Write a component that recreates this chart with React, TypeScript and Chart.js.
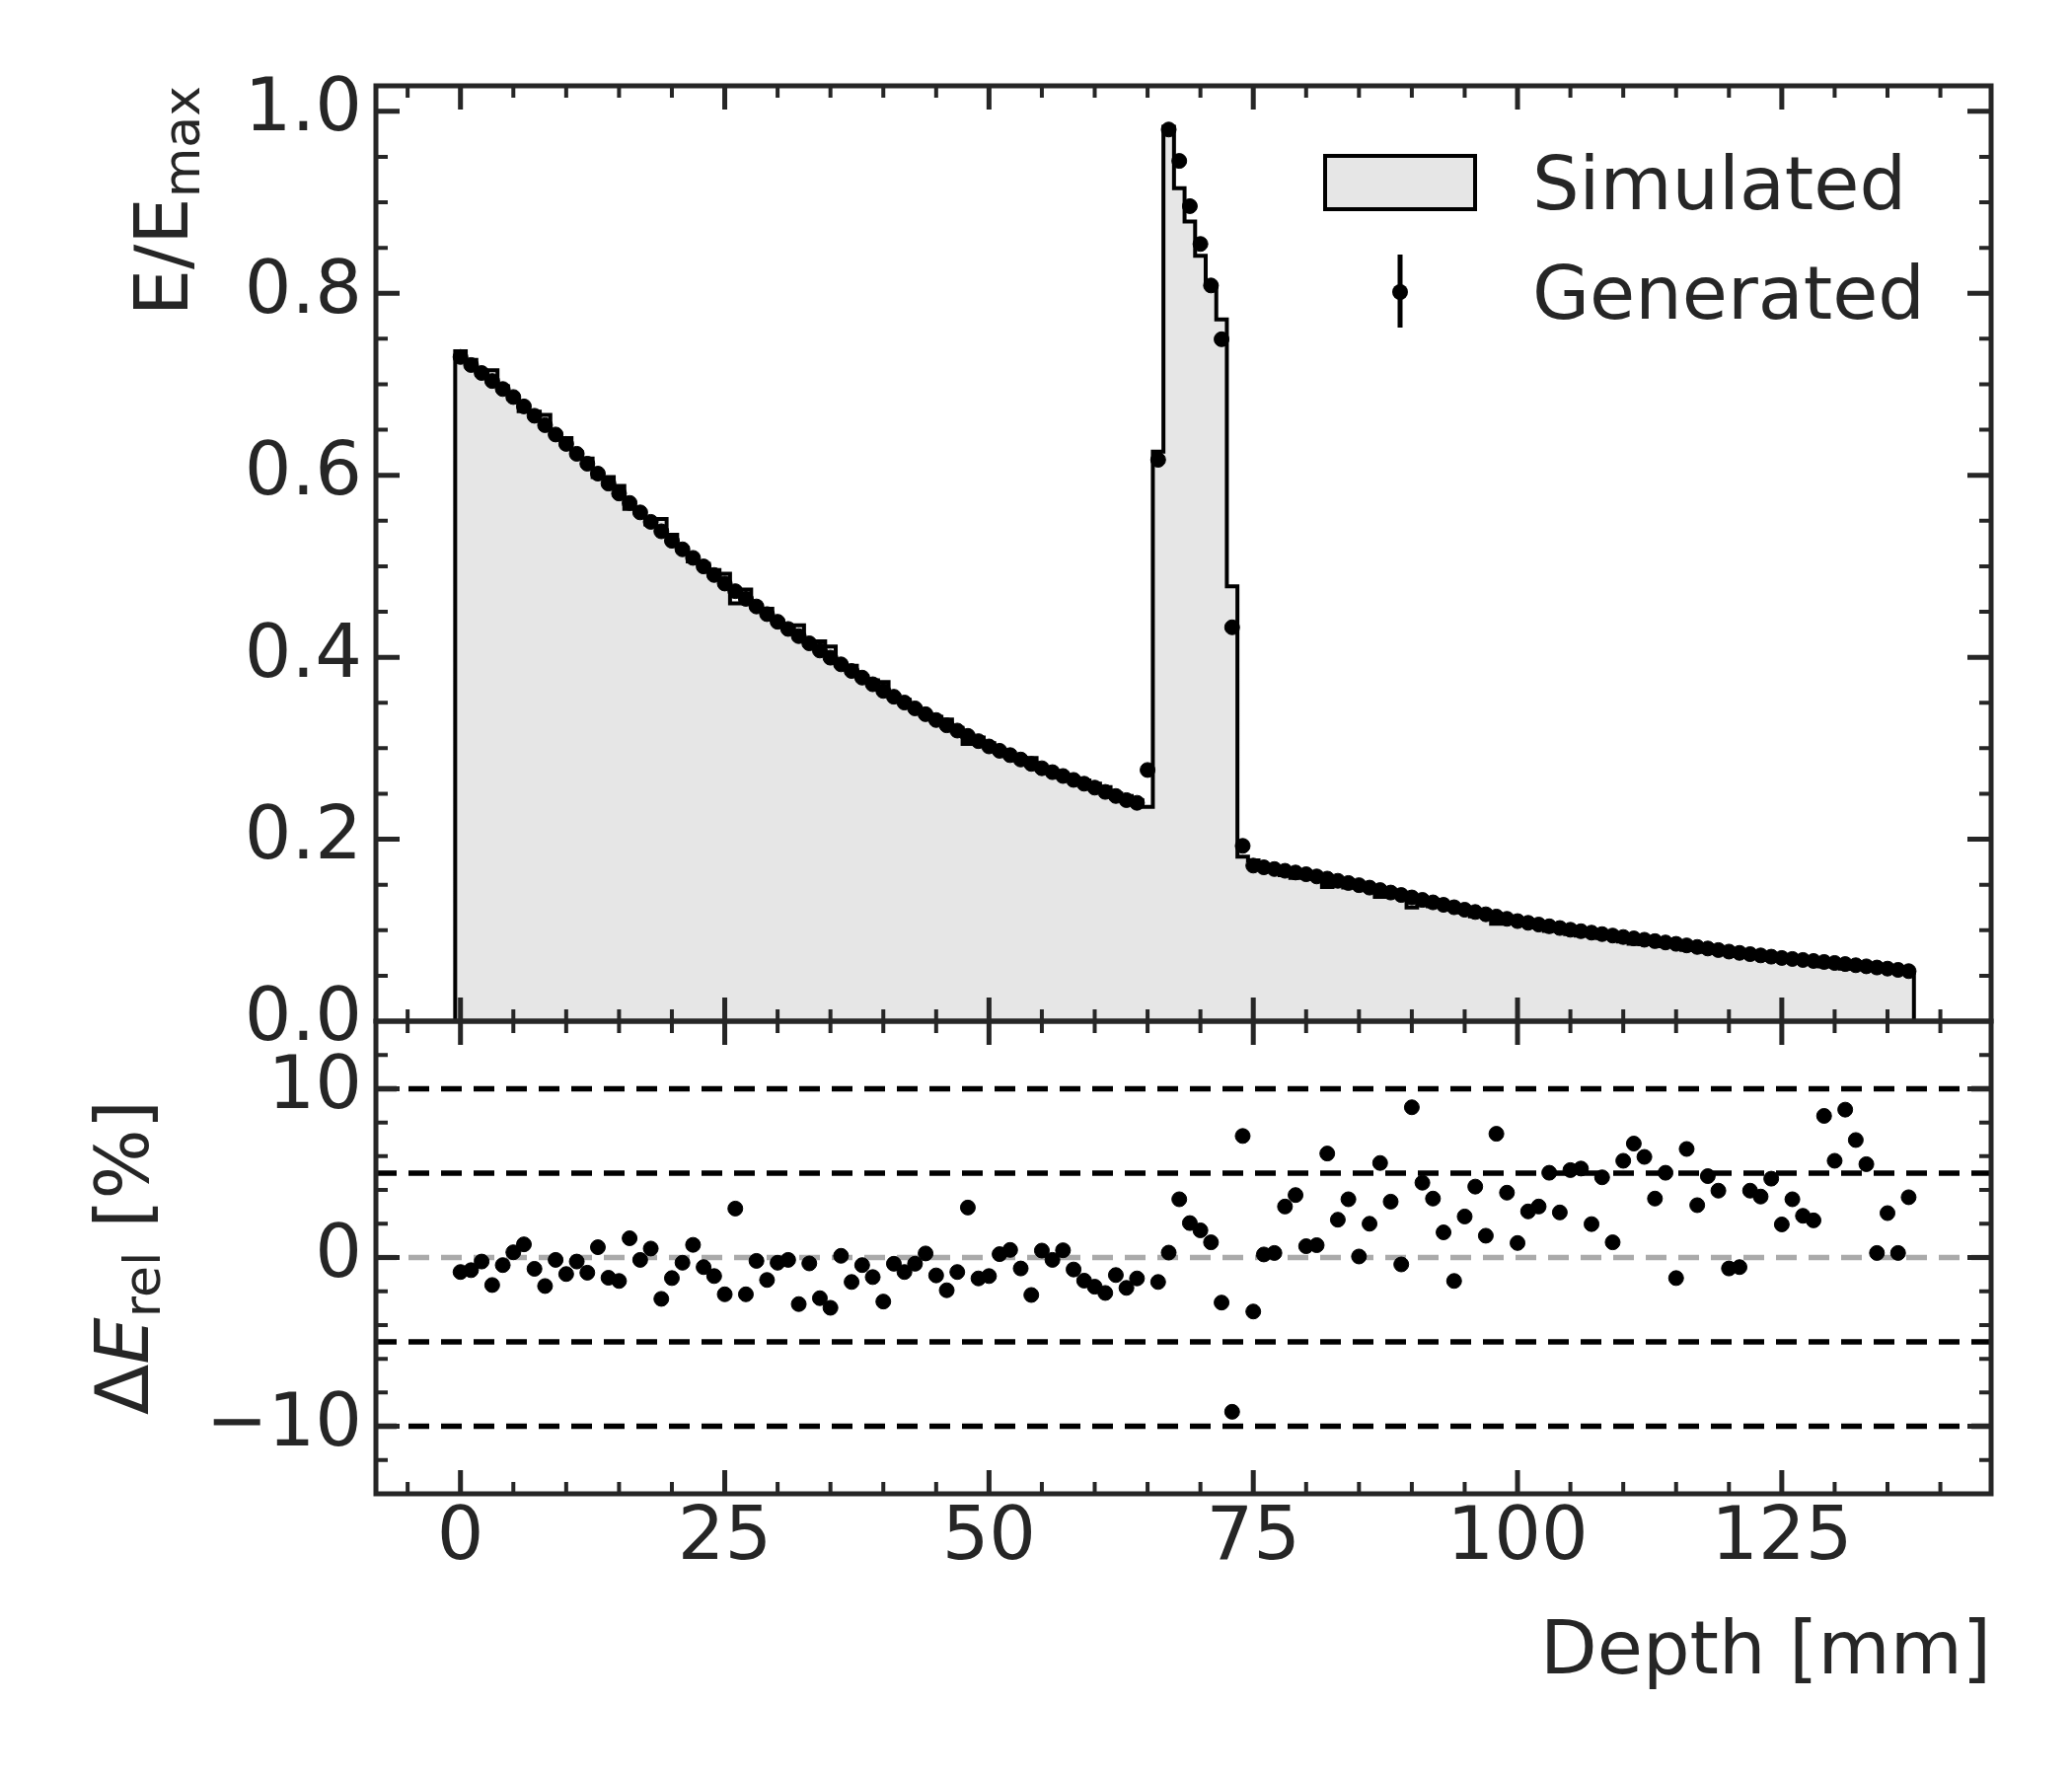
import { useEffect, useRef } from 'react';
import { Chart, registerables } from 'chart.js';

Chart.register(...registerables);

// depth bins are 1 mm wide and centred on whole millimetres
const firstBinMm = 0;
const binWidthMm = 1;

// simulated histogram, E/Emax per bin
const simulated = [
  0.7363, 0.7267, 0.7141, 0.7153, 0.6979, 0.6839, 0.6705, 0.6699, 0.6664, 0.6457,
  0.6408, 0.6251, 0.6183, 0.5981, 0.5981, 0.5882, 0.5632, 0.5600, 0.5459, 0.5519,
  0.5345, 0.5202, 0.5054, 0.5027, 0.4959, 0.4917, 0.4593, 0.4745, 0.4567, 0.4534,
  0.4404, 0.4317, 0.4352, 0.4168, 0.4175, 0.4118, 0.3918, 0.3906, 0.3793, 0.3746,
  0.3727, 0.3579, 0.3532, 0.3451, 0.3366, 0.3345, 0.3316, 0.3222, 0.3046, 0.3117,
  0.3054, 0.2966, 0.2911, 0.2895, 0.2892, 0.2769, 0.2741, 0.2683, 0.2671, 0.2646,
  0.2612, 0.2574, 0.2501, 0.2475, 0.2430, 0.2357, 0.6260, 0.9830, 0.9155, 0.8790,
  0.8413, 0.8086, 0.7713, 0.4780, 0.1808, 0.1767, 0.1688, 0.1667, 0.1605, 0.1576,
  0.1604, 0.1579, 0.1476, 0.1509, 0.1468, 0.1494, 0.1439, 0.1365, 0.1369, 0.1393,
  0.1249, 0.1276, 0.1262, 0.1260, 0.1270, 0.1196, 0.1152, 0.1160, 0.1071, 0.1083,
  0.1091, 0.1052, 0.1031, 0.0993, 0.0997, 0.0956, 0.0940, 0.0954, 0.0914, 0.0933,
  0.0875, 0.0852, 0.0845, 0.0850, 0.0824, 0.0861, 0.0783, 0.0791, 0.0762, 0.0752,
  0.0770, 0.0755, 0.0709, 0.0698, 0.0677, 0.0682, 0.0661, 0.0657, 0.0648, 0.0601,
  0.0605, 0.0577, 0.0575, 0.0571, 0.0588, 0.0563, 0.0562, 0.0531,
];

// generated points, E/Emax at each bin centre
const generated = [
  0.7300, 0.7212, 0.7124, 0.7036, 0.6948, 0.6860, 0.6757, 0.6654, 0.6551, 0.6448,
  0.6345, 0.6236, 0.6127, 0.6018, 0.5909, 0.5800, 0.5696, 0.5592, 0.5488, 0.5384,
  0.5280, 0.5186, 0.5092, 0.4998, 0.4904, 0.4810, 0.4726, 0.4642, 0.4558, 0.4474,
  0.4390, 0.4311, 0.4232, 0.4153, 0.4074, 0.3995, 0.3922, 0.3849, 0.3776, 0.3703,
  0.3630, 0.3566, 0.3502, 0.3438, 0.3374, 0.3310, 0.3252, 0.3194, 0.3136, 0.3078,
  0.3020, 0.2972, 0.2924, 0.2876, 0.2828, 0.2780, 0.2737, 0.2695, 0.2652, 0.2610,
  0.2567, 0.2520, 0.2475, 0.2430, 0.2400, 0.2761, 0.6170, 0.9800, 0.9455, 0.8958,
  0.8542, 0.8086, 0.7495, 0.4329, 0.1927, 0.1710, 0.1691, 0.1672, 0.1653, 0.1634,
  0.1615, 0.1591, 0.1567, 0.1543, 0.1519, 0.1495, 0.1468, 0.1441, 0.1414, 0.1387,
  0.1360, 0.1333, 0.1306, 0.1279, 0.1252, 0.1225, 0.1200, 0.1175, 0.1150, 0.1125,
  0.1100, 0.1081, 0.1062, 0.1043, 0.1024, 0.1005, 0.0989, 0.0973, 0.0957, 0.0941,
  0.0925, 0.0910, 0.0895, 0.0880, 0.0865, 0.0850, 0.0833, 0.0816, 0.0799, 0.0782,
  0.0765, 0.0751, 0.0737, 0.0723, 0.0709, 0.0695, 0.0684, 0.0673, 0.0662, 0.0651,
  0.0640, 0.0628, 0.0615, 0.0603, 0.0590, 0.0578, 0.0564, 0.0550,
];

// relative difference in percent (bin 65 lies above the axis range)
const deltaRel = [
  -0.86, -0.75, -0.24, -1.63, -0.45, 0.31, 0.78, -0.67, -1.69, -0.14,
  -0.98, -0.24, -0.90, 0.61, -1.20, -1.39, 1.14, -0.14, 0.53, -2.45,
  -1.22, -0.31, 0.75, -0.57, -1.10, -2.18, 2.90, -2.18, -0.20, -1.33,
  -0.31, -0.14, -2.76, -0.35, -2.41, -2.98, 0.10, -1.45, -0.45, -1.16,
  -2.61, -0.37, -0.86, -0.37, 0.24, -1.06, -1.94, -0.86, 2.96, -1.24,
  -1.10, 0.20, 0.45, -0.65, -2.22, 0.41, -0.14, 0.43, -0.71, -1.37,
  -1.73, -2.10, -1.04, -1.80, -1.24, 17.1, -1.45, 0.29, 3.45, 2.04,
  1.61, 0.90, -2.67, -9.14, 7.20, -3.20, 0.18, 0.27, 3.02, 3.70,
  0.67, 0.73, 6.16, 2.24, 3.45, 0.06, 2.00, 5.60, 3.31, -0.41,
  8.90, 4.43, 3.49, 1.49, -1.39, 2.43, 4.20, 1.29, 7.33, 3.84,
  0.86, 2.73, 3.02, 5.02, 2.67, 5.18, 5.27, 1.98, 4.75, 0.90,
  5.73, 6.75, 5.96, 3.49, 5.02, -1.22, 6.43, 3.10, 4.82, 3.96,
  -0.65, -0.57, 3.96, 3.61, 4.67, 1.96, 3.45, 2.47, 2.20, 8.39,
  5.73, 8.76, 6.96, 5.53, 0.27, 2.63, 0.27, 3.57,
];

const refLevels = [10, 5, -5, -10];

const X_MIN = -8;
const X_MAX = 144.8;
const TOP_MAX = 1.028;
const BOT_MIN = -14;
const BOT_MAX = 14;

const INK = '#262626';
const FONT = 'DejaVu Sans';
const FS = 75;
const SUB = 52;
const MAIN_FONT = `${FS}px "${FONT}"`;
const SUB_FONT = `${SUB}px "${FONT}"`;

type Part = { text: string; font: string; shift?: number };
type PanelCfg = {
  yMajor: number;
  yMinor: number;
  refs?: number[];
  legend?: boolean;
  titleX: number;
  titleAlign: 'end' | 'center';
  title: Part[];
};

function stepsIn(min: number, max: number, step: number) {
  const out: number[] = [];
  for (let v = Math.ceil(min / step - 1e-9) * step; v <= max + 1e-9; v += step) {
    out.push(Math.round(v * 1e6) / 1e6);
  }
  return out;
}

// frame, inward ticks, reference lines, rotated y title and legend
function makeFrame(cfg: PanelCfg) {
  return {
    id: 'frame',
    beforeDatasetsDraw(chart: any) {
      if (!cfg.refs) return;
      const { ctx, chartArea: a } = chart;
      const y = chart.scales.y;
      ctx.save();
      ctx.beginPath();
      ctx.rect(a.left, a.top, a.right - a.left, a.bottom - a.top);
      ctx.clip();
      ctx.lineWidth = 5.5;
      ctx.lineCap = 'butt';
      ctx.setLineDash([21, 12]);
      const lines: [number, string][] = [...cfg.refs.map((v) => [v, '#000000'] as [number, string]), [0, '#aaaaaa']];
      for (const [v, c] of lines) {
        const py = y.getPixelForValue(v);
        ctx.strokeStyle = c;
        ctx.beginPath();
        ctx.moveTo(a.left, py);
        ctx.lineTo(a.right, py);
        ctx.stroke();
      }
      ctx.restore();
    },
    afterDraw(chart: any) {
      const { ctx, chartArea: a } = chart;
      const x = chart.scales.x;
      const y = chart.scales.y;
      ctx.save();
      ctx.strokeStyle = INK;
      ctx.lineCap = 'butt';

      const drawX = (vals: number[], len: number, lw: number) => {
        ctx.lineWidth = lw;
        ctx.beginPath();
        for (const v of vals) {
          if (v <= X_MIN || v >= X_MAX) continue;
          const px = x.getPixelForValue(v);
          ctx.moveTo(px, a.bottom);
          ctx.lineTo(px, a.bottom - len);
          ctx.moveTo(px, a.top);
          ctx.lineTo(px, a.top + len);
        }
        ctx.stroke();
      };
      const drawY = (vals: number[], len: number, lw: number) => {
        ctx.lineWidth = lw;
        ctx.beginPath();
        for (const v of vals) {
          if (v <= y.min + 1e-9 || v >= y.max - 1e-9) continue;
          const py = y.getPixelForValue(v);
          ctx.moveTo(a.left, py);
          ctx.lineTo(a.left + len, py);
          ctx.moveTo(a.right, py);
          ctx.lineTo(a.right - len, py);
        }
        ctx.stroke();
      };
      const xMajor = stepsIn(X_MIN, X_MAX, 25);
      const xMinor = stepsIn(X_MIN, X_MAX, 5).filter((v) => !xMajor.includes(v));
      const yMajor = stepsIn(y.min, y.max, cfg.yMajor);
      const yMinor = stepsIn(y.min, y.max, cfg.yMinor).filter(
        (v) => !yMajor.some((m) => Math.abs(m - v) < 1e-6)
      );
      drawX(xMinor, 12, 4);
      drawX(xMajor, 24, 5);
      drawY(yMinor, 12, 4);
      drawY(yMajor, 24, 5);

      ctx.lineWidth = 5;
      ctx.strokeRect(a.left, a.top, a.right - a.left, a.bottom - a.top);
      ctx.restore();

      // rotated y title, assembled from parts for the sub-scripts
      ctx.save();
      let total = 0;
      for (const p of cfg.title) {
        ctx.font = p.font;
        total += ctx.measureText(p.text).width;
      }
      const startY = cfg.titleAlign === 'end' ? a.top + total : (a.top + a.bottom) / 2 + total / 2;
      ctx.translate(cfg.titleX, startY);
      ctx.rotate(-Math.PI / 2);
      ctx.fillStyle = INK;
      ctx.textBaseline = 'alphabetic';
      ctx.textAlign = 'left';
      let cur = 0;
      for (const p of cfg.title) {
        ctx.font = p.font;
        ctx.fillText(p.text, cur, p.shift ?? 0);
        cur += ctx.measureText(p.text).width;
      }
      ctx.restore();

      if (cfg.legend) {
        ctx.save();
        ctx.fillStyle = '#e6e6e6';
        ctx.fillRect(1343, 158, 152, 54);
        ctx.lineWidth = 4;
        ctx.strokeStyle = '#000';
        ctx.strokeRect(1343, 158, 152, 54);
        ctx.lineWidth = 5;
        ctx.beginPath();
        ctx.moveTo(1419, 258);
        ctx.lineTo(1419, 332);
        ctx.stroke();
        ctx.fillStyle = '#000';
        ctx.beginPath();
        ctx.arc(1419, 296, 8, 0, Math.PI * 2);
        ctx.fill();
        ctx.fillStyle = INK;
        ctx.font = MAIN_FONT;
        ctx.textBaseline = 'alphabetic';
        ctx.textAlign = 'left';
        ctx.fillText('Simulated', 1553, 212);
        ctx.fillText('Generated', 1553, 323);
        ctx.restore();
      }
    },
  };
}

const topFrame = makeFrame({
  yMajor: 0.2,
  yMinor: 0.05,
  legend: true,
  titleX: 190,
  titleAlign: 'end',
  title: [
    { text: 'E/E', font: MAIN_FONT },
    { text: 'max', font: SUB_FONT, shift: 12 },
  ],
});

const bottomFrame = makeFrame({
  yMajor: 10,
  yMinor: 2,
  refs: refLevels,
  titleX: 150,
  titleAlign: 'center',
  title: [
    { text: '\u0394', font: MAIN_FONT },
    { text: 'E', font: `italic ${FS}px "${FONT}"` },
    { text: 'rel', font: SUB_FONT, shift: 12 },
    { text: ' [%]', font: MAIN_FONT },
  ],
});

const tickFont = { family: FONT, size: FS, lineHeight: 1 };

export default function App() {
  const topRef = useRef<HTMLCanvasElement>(null);
  const botRef = useRef<HTMLCanvasElement>(null);

  useEffect(() => {
    const depth = simulated.map((_, i) => firstBinMm + i * binWidthMm);
    const half = binWidthMm / 2;
    const last = depth.length - 1;
    const histPts = [
      { x: depth[0] - half, y: 0 },
      ...simulated.map((v, i) => ({ x: depth[i] - half, y: v })),
      { x: depth[last] + half, y: simulated[last] },
      { x: depth[last] + half, y: 0 },
    ];
    const genPts = generated.map((v, i) => ({ x: depth[i], y: v }));
    const deltaPts = deltaRel.map((v, i) => ({ x: depth[i], y: v }));

    const top = new Chart(topRef.current as any, {
      type: 'line',
      data: {
        datasets: [
          {
            label: 'Generated',
            data: genPts,
            showLine: false,
            pointRadius: 7.5,
            pointBorderWidth: 1,
            pointBackgroundColor: '#000',
            pointBorderColor: '#000',
            order: 0,
          },
          {
            label: 'Simulated',
            data: histPts,
            stepped: 'before',
            borderColor: '#000',
            borderWidth: 4,
            backgroundColor: '#e6e6e6',
            fill: 'origin',
            pointRadius: 0,
            order: 1,
          },
        ],
      } as any,
      options: {
        responsive: false,
        animation: false,
        layout: { padding: { top: 87, right: 82, bottom: 65, left: 0 } },
        plugins: {
          legend: { display: false },
          tooltip: { enabled: false },
        },
        scales: {
          x: { type: 'linear', min: X_MIN, max: X_MAX, display: false },
          y: {
            type: 'linear',
            min: 0,
            max: TOP_MAX,
            afterFit: (s: any) => {
              s.width = 381;
            },
            grid: { display: false, drawTicks: false },
            border: { display: false },
            ticks: {
              stepSize: 0.2,
              includeBounds: false,
              autoSkip: false,
              padding: 14,
              color: INK,
              font: tickFont,
              callback: (v: any) => Number(v).toFixed(1),
            },
          },
        },
      } as any,
      plugins: [topFrame],
    });

    const bottom = new Chart(botRef.current as any, {
      type: 'scatter',
      data: {
        datasets: [
          {
            label: 'Delta',
            data: deltaPts,
            pointRadius: 7.5,
            pointBorderWidth: 1,
            pointBackgroundColor: '#000',
            pointBorderColor: '#000',
            clip: 0,
          },
        ],
      } as any,
      options: {
        responsive: false,
        animation: false,
        layout: { padding: { top: 75, right: 82, bottom: 0, left: 0 } },
        plugins: {
          legend: { display: false },
          tooltip: { enabled: false },
        },
        scales: {
          x: {
            type: 'linear',
            position: 'bottom',
            min: X_MIN,
            max: X_MAX,
            afterFit: (s: any) => {
              s.height = 286;
            },
            grid: { display: false, drawTicks: false },
            border: { display: false },
            ticks: {
              stepSize: 25,
              includeBounds: false,
              autoSkip: false,
              maxRotation: 0,
              padding: 9,
              color: INK,
              font: tickFont,
            },
            title: {
              display: true,
              text: 'Depth [mm]',
              align: 'end',
              color: INK,
              font: tickFont,
              padding: { top: 0, bottom: 86 },
            },
          },
          y: {
            type: 'linear',
            min: BOT_MIN,
            max: BOT_MAX,
            afterFit: (s: any) => {
              s.width = 381;
            },
            grid: { display: false, drawTicks: false },
            border: { display: false },
            ticks: {
              stepSize: 10,
              includeBounds: false,
              autoSkip: false,
              padding: 14,
              color: INK,
              font: tickFont,
              callback: (v: any) => (Number(v) < 0 ? '\u2212' + Math.abs(Number(v)) : String(v)),
            },
          },
        },
      } as any,
      plugins: [bottomFrame],
    });

    return () => {
      top.destroy();
      bottom.destroy();
    };
  }, []);

  return (
    <div style={{ position: 'absolute', left: 0, top: 0, width: 2100, height: 1800, background: '#ffffff' }}>
      <canvas ref={topRef} width={2100} height={1100} style={{ position: 'absolute', left: 0, top: 0 }} />
      <canvas ref={botRef} width={2100} height={840} style={{ position: 'absolute', left: 0, top: 960 }} />
    </div>
  );
}
